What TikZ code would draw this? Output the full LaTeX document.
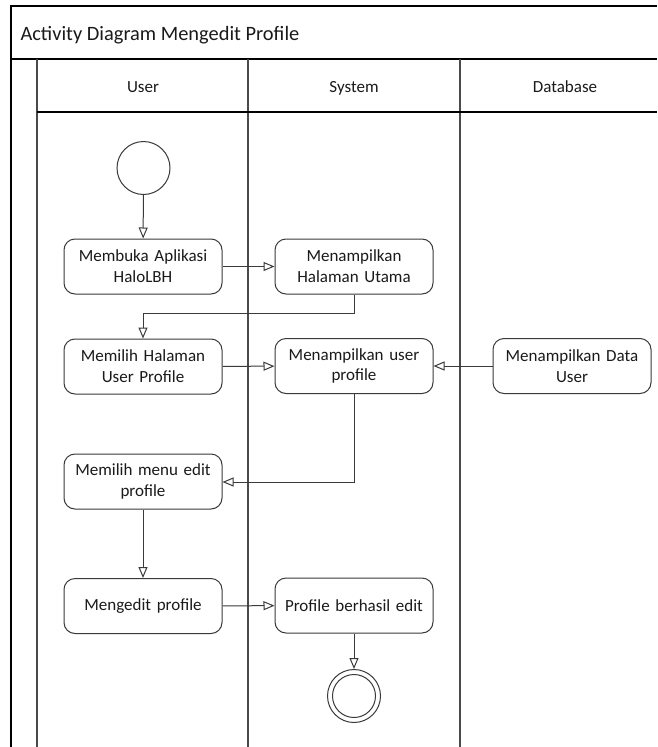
\documentclass[tikz,border=0pt]{standalone}
\usepackage{fontspec}
\setmainfont{Carlito}
\usetikzlibrary{arrows.meta}
\definecolor{ink}{HTML}{1A1A1A}
\definecolor{edge}{HTML}{3A3A3A}
\definecolor{lane}{HTML}{4A4A4A}
\tikzset{
  action/.style={draw=edge, line width=1pt, rounded corners=11pt, fill=white,
    minimum width=158pt, minimum height=55pt, text width=154pt, align=center,
    inner sep=0pt, text=ink, font=\fontsize{17}{20.7}\selectfont},
  flow/.style={draw=edge, line width=1pt,
    -{Triangle[open,length=11pt,width=9pt]}},
  hdr/.style={text=ink, anchor=base, font=\fontsize{17}{20.7}\selectfont},
  frameline/.style={draw=black, line width=1.4pt},
  laneline/.style={draw=lane, line width=2pt}
}
\begin{document}
\begin{tikzpicture}[x=1pt,y=-1pt]
\useasboundingbox (0,0) rectangle (657,747);
\fill[white] (0,0) rectangle (657,747);

% frame and swimlanes
\draw[frameline] (657,6) -- (11,6) -- (11,747);
\draw[frameline] (11,59) -- (657,59);
\draw[laneline] (37,59) -- (37,747);
\draw[laneline] (248,59) -- (248,747);
\draw[laneline] (460,59) -- (460,747);
\draw[frameline] (37,112) -- (657,112);

\node[anchor=base west, text=ink, font=\fontsize{20.4}{24}\selectfont] (title) at (17,40) {Activity Diagram Mengedit Profile};
\node[hdr] (huser) at (143,92) {User};
\node[hdr] (hsys) at (354,92) {System};
\node[hdr] (hdb) at (565,92) {Database};

% start and end
\node[draw=edge, line width=1pt, circle, minimum size=53pt, inner sep=0pt] (start) at (143.5,168) {};
\node[draw=edge, line width=1pt, circle, minimum size=53pt, inner sep=0pt] (stop) at (354,696) {};
\draw[edge, line width=1pt] (stop) circle (21.5pt);

% actions
\node[action] (buka) at (143,266.5) {Membuka Aplikasi\\HaloLBH};
\node[action] (utama) at (354,266.5) {Menampilkan\\Halaman Utama};
\node[action] (pilih) at (143,366.5) {Memilih Halaman\\User Profile};
\node[action] (tampil) at (354,366) {Menampilkan user\\profile};
\node[action] (data) at (572,366) {Menampilkan Data\\User};
\node[action] (menu) at (143,481.5) {Memilih menu edit\\profile};
\node[action] (edit) at (143,606) {Mengedit profile};
\node[action] (hasil) at (354,605.5) {Profile berhasil edit};

% bend points
\coordinate (b1) at (354,313);
\coordinate (b2) at (354,482);

% flows
\draw[flow] (start) -- (buka);
\draw[flow] (buka) -- (utama);
\draw[flow] (utama.south) -- (b1) -| (pilih.north);
\draw[flow] (pilih) -- (tampil);
\draw[flow] (data) -- (tampil);
\draw[flow] (tampil.south) -- (b2) -- (b2 -| menu.east);
\draw[flow] (menu) -- (edit);
\draw[flow] (edit) -- (hasil);
\draw[flow] (hasil) -- (stop);
\end{tikzpicture}
\end{document}
